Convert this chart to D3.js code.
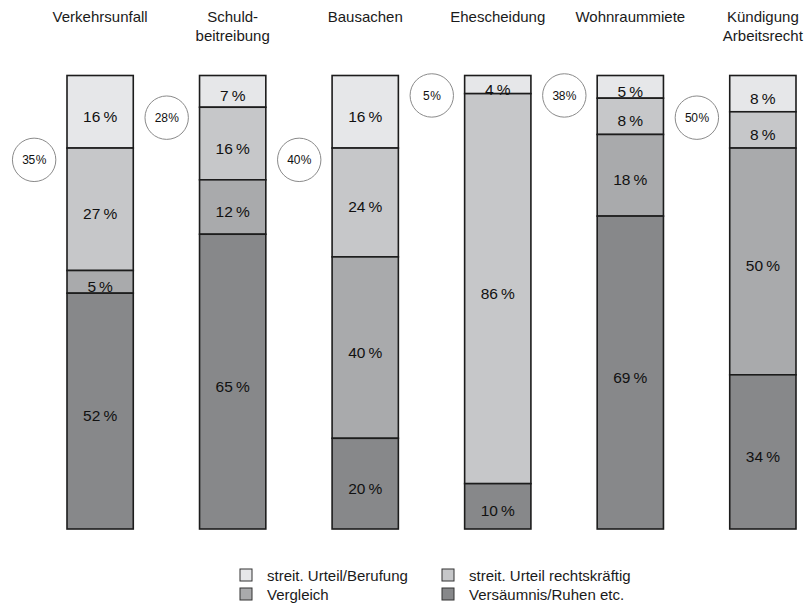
<!DOCTYPE html>
<html>
<head>
<meta charset="utf-8">
<script src="https://cdn.jsdelivr.net/npm/d3@7"></script>
<style>
  body { margin: 0; background: #fff; }
  svg { font-family: "Liberation Sans", Arial, sans-serif; }
</style>
</head>
<body>
<div id="wrapper"></div>
<script>
// 1. Data

const categories = [
  ["Verkehrsunfall"],
  ["Schuld-", "beitreibung"],
  ["Bausachen"],
  ["Ehescheidung"],
  ["Wohnraummiete"],
  ["Kündigung", "Arbeitsrecht"],
]
const seriesNames = [
  "streit. Urteil/Berufung",
  "streit. Urteil rechtskräftig",
  "Vergleich",
  "Versäumnis/Ruhen etc.",
]
const berufung       = [16, 7, 16, 4, 5, 8]
const rechtskraeftig = [27, 16, 24, 86, 8, 8]
const vergleich      = [5, 12, 40, 0, 18, 50]
const versaeumnis    = [52, 65, 20, 10, 69, 34]
const appealRates    = [35, 28, 40, 5, 38, 50]

const series = [berufung, rechtskraeftig, vergleich, versaeumnis]

// 2. Dimensions

const width = 811
const height = 606
const colors = ["#e6e7e9", "#c6c7c9", "#a9aaac", "#87888a"]

const svg = d3.select("#wrapper")
  .append("svg")
    .attr("width", width)
    .attr("height", height)

// 3. Scales

const xScale = d3.scaleBand()
  .domain(d3.range(categories.length))
  .range([67, 796])
  .paddingInner(0.5)
  .paddingOuter(0)

const yScale = d3.scaleLinear()
  .domain([0, 100])
  .range([75.5, 529])

// stacked segments, top to bottom
const stacked = categories.map((c, i) => {
  let acc = 0
  return series.map((s, k) => {
    const seg = { bar: i, key: k, value: s[i], y0: acc, y1: acc + s[i] }
    acc += s[i]
    return seg
  })
})

// 4. Draw bars

const bars = svg.selectAll(".bar")
  .data(stacked)
  .enter().append("g")
    .attr("class", "bar")
    .attr("transform", (d, i) => `translate(${xScale(i)},0)`)

bars.selectAll("rect")
  .data(d => d.filter(s => s.value > 0))
  .enter().append("rect")
    .attr("x", 0)
    .attr("y", d => yScale(d.y0))
    .attr("width", xScale.bandwidth())
    .attr("height", d => yScale(d.y1) - yScale(d.y0))
    .attr("fill", d => colors[d.key])
    .attr("stroke", "#1c1c1c")
    .attr("stroke-width", 1.6)

bars.selectAll(".seg-label")
  .data(d => d.filter(s => s.value > 0))
  .enter().append("text")
    .attr("class", "seg-label")
    .attr("x", xScale.bandwidth() / 2)
    .attr("y", d => (yScale(d.y0) + yScale(d.y1)) / 2 + 10)
    .attr("text-anchor", "middle")
    .attr("font-size", 15.5)
    .attr("fill", "#111")
    .text(d => d.value + "\u2009%")

// 5. Appeal circles

const circleLevel = [18.6, 9.3, 18.6, 4.4, 4.4, 9.3]

const circles = svg.selectAll(".appeal")
  .data(appealRates)
  .enter().append("g")
    .attr("class", "appeal")
    .attr("transform", (d, i) =>
      `translate(${xScale(i) + xScale.bandwidth() / 2 - 66},${yScale(circleLevel[i])})`)

circles.append("circle")
    .attr("r", 21.7)
    .attr("fill", "#fff")
    .attr("stroke", "#8a8a8a")
    .attr("stroke-width", 1)

circles.append("text")
    .attr("text-anchor", "middle")
    .attr("y", 4.5)
    .attr("font-size", 12)
    .attr("letter-spacing", -0.3)
    .attr("fill", "#111")
    .text(d => d + "\u200a%")

// 6. Headers

const headers = svg.selectAll(".header")
  .data(categories)
  .enter().append("text")
    .attr("class", "header")
    .attr("text-anchor", "middle")
    .attr("font-size", 15)
    .attr("fill", "#1a1a1a")
    .attr("x", (d, i) => xScale(i) + xScale.bandwidth() / 2)
    .attr("y", 22)

headers.selectAll("tspan")
  .data(d => d)
  .enter().append("tspan")
    .attr("x", function () { return d3.select(this.parentNode).attr("x") })
    .attr("dy", (d, i) => i === 0 ? 0 : 19)
    .text(d => d)

// 7. Legend

const legend = svg.selectAll(".legend")
  .data(seriesNames)
  .enter().append("g")
    .attr("class", "legend")
    .attr("transform", (d, i) => `translate(${i % 2 === 0 ? 240 : 442},${i < 2 ? 569 : 588})`)

legend.append("rect")
    .attr("width", 12)
    .attr("height", 12)
    .attr("fill", (d, i) => colors[i])
    .attr("stroke", "#333")
    .attr("stroke-width", 1)

legend.append("text")
    .attr("x", 27)
    .attr("y", 11.5)
    .attr("font-size", 15)
    .attr("fill", "#1a1a1a")
    .text(d => d)
</script>
</body>
</html>
